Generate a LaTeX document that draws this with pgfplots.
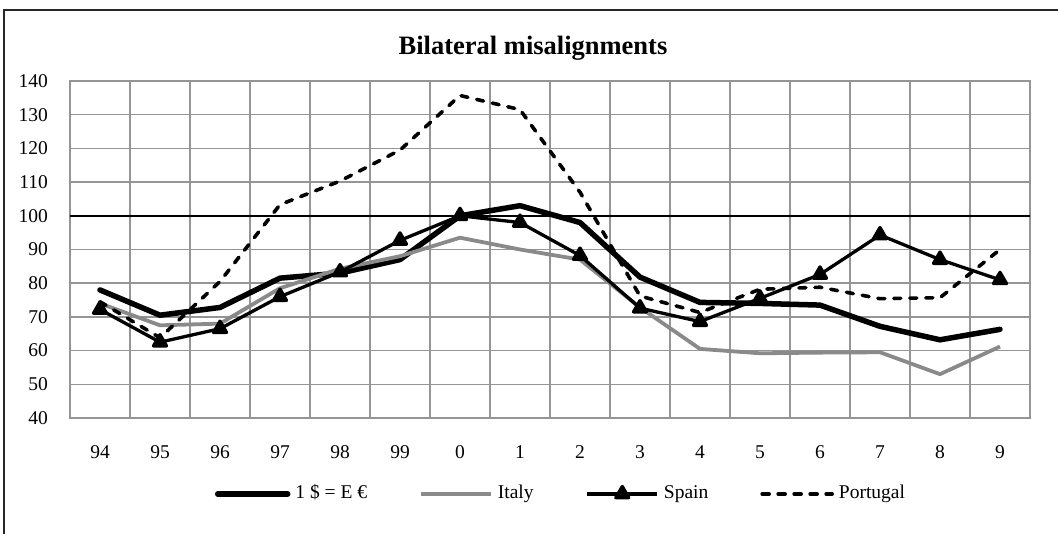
\documentclass[border=0pt]{standalone}
\usepackage{pgfplots}
\pgfplotsset{compat=1.18}
\usepackage{fontspec}
\setmainfont{Liberation Serif}
\definecolor{gridgray}{HTML}{959595}
\definecolor{italygray}{HTML}{8A8A8A}
\begin{document}
\begin{tikzpicture}[x=1pt,y=1pt]
\useasboundingbox (0,0) rectangle (1058,534);
\draw[line width=1.3pt, black!85] (4,0) -- (4,524) -- (1058,524);
\node[font=\fontsize{26.5}{30}\selectfont\bfseries, anchor=base, inner sep=0pt] at (533,479) {Bilateral misalignments};
\begin{axis}[
  at={(70pt,116pt)}, anchor=south west,
  width=960pt, height=337pt, scale only axis,
  xmin=-0.5, xmax=15.5, ymin=40, ymax=140,
  xtick={0,...,15}, xticklabels={94,95,96,97,98,99,0,1,2,3,4,5,6,7,8,9},
  minor xtick={-0.5,0.5,...,15.5},
  ytick={40,50,...,140},
  xmajorgrids=false, xminorgrids=true, ymajorgrids=true,
  grid style={draw=gridgray, line width=1.4pt},
  minor grid style={draw=gridgray, line width=1.4pt},
  axis line style={draw=gridgray, line width=1.4pt},
  major tick length=0pt, minor tick length=0pt,
  tick label style={font=\fontsize{19.5}{21}\selectfont},
  /pgf/number format/assume math mode=true,
  yticklabel style={anchor=east, inner sep=0pt, xshift=-22pt},
  xticklabel style={anchor=north, inner sep=0pt, yshift=-27pt, text height=13pt, text depth=0pt},
  legend columns=4,
  legend style={at={(0.151,-0.2255)}, anchor=west, draw=none, fill=none,
    inner sep=0pt, outer sep=0pt, font=\fontsize{19.5}{21}\selectfont,
    /tikz/column sep=5pt,
    /tikz/every even column/.append style={column sep=52pt},
    nodes={inner sep=0pt, anchor=west, text height=13pt, text depth=4pt}},
  legend image code/.code={\draw[mark repeat=2,mark phase=2,#1] plot coordinates {(0pt,0pt) (35pt,0pt) (70pt,0pt)};},
]
\addplot[black, line width=1.5pt, forget plot] coordinates {(-0.5,100) (15.5,100)};
\addplot[black, line width=5.5pt, line join=round, line cap=round] coordinates {
(0,78) (1,70.5) (2,72.8) (3,81.5) (4,83) (5,87) (6,100) (7,103) (8,98) (9,81.8) (10,74.3) (11,74) (12,73.5) (13,67.2) (14,63.2) (15,66.3)};
\addlegendentry{1 \$ = E €}
\addplot[italygray, line width=3.8pt, line join=round] coordinates {
(0,74) (1,67.5) (2,68) (3,78.5) (4,84.3) (5,88) (6,93.5) (7,90) (8,87) (9,72.8) (10,60.5) (11,59.2) (12,59.4) (13,59.5) (14,53) (15,61.2)};
\addlegendentry{Italy}
\addplot[black, line width=3.3pt, line join=round, mark=triangle*, mark size=7.5pt, mark options={solid}] coordinates {
(0,72.2) (1,62.5) (2,66.5) (3,76) (4,83.3) (5,92.7) (6,100) (7,98) (8,88.2) (9,72.6) (10,68.6) (11,75.5) (12,82.6) (13,94.3) (14,87) (15,81)};
\addlegendentry{Spain}
\addplot[black, line width=3.6pt, line join=round, line cap=round, dash pattern=on 7pt off 9pt] coordinates {
(0,74.5) (1,63.8) (2,80.5) (3,103.3) (4,110.3) (5,119.5) (6,135.7) (7,131.5) (8,107) (9,76.2) (10,71.3) (11,78.2) (12,78.8) (13,75.4) (14,75.7) (15,90)};
\addlegendentry{Portugal}
\end{axis}
\end{tikzpicture}
\end{document}
